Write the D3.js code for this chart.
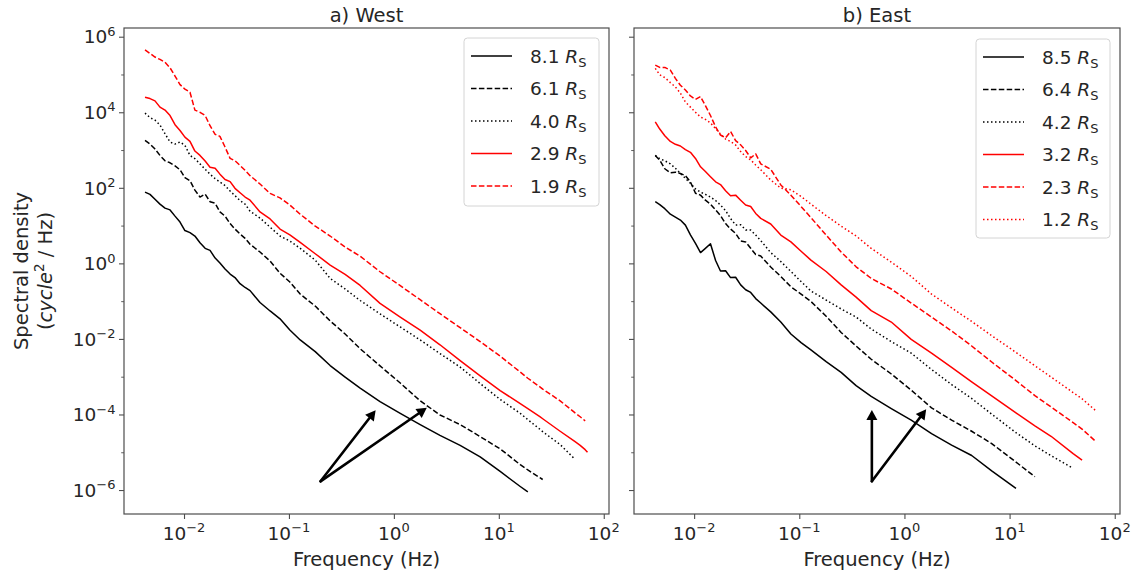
<!DOCTYPE html>
<html><head><meta charset="utf-8">
<script src="https://cdn.jsdelivr.net/npm/d3@7"></script>
<style>
body{margin:0;background:#fff}
svg{display:block}
text{font-family:"DejaVu Sans",sans-serif;fill:#262626}
</style>
</head><body>
<svg id="c" width="1140" height="575"></svg>
<script>
// ---------- DATA ----------
const freqWest = [0.00425,0.00474,0.00529,0.0059,0.00659,0.00736,0.00821,0.00916,0.0102,0.0114,
  0.0127,0.0142,0.0159,0.0177,0.0198,0.022,0.0246,0.0275,0.0306,0.0342,
  0.0382,0.0426,0.053,0.0661,0.0822,0.102,0.128,0.178,0.247,0.343,
  0.477,0.738,1.15,1.78,2.75,4.28,6.64,10.3,16.0,18.9,
  24.8,26.2,38.4,53.3,59.6,66.5,70.0];
const west81 = [77,67,50,37,29,26,17.8,12.4,7.4,6.5,
  5.3,3.5,2.5,2.2,1.38,1.02,0.71,0.52,0.42,0.29,
  0.23,0.19,0.092,0.055,0.034,0.0172,0.0094,0.0046,0.00197,9.8e-4,
  5.0e-4,2.2e-4,1.07e-4,5.4e-5,2.8e-5,1.52e-5,7.5e-6,3.1e-6,1.24e-6,8.9e-7];
const west61 = [1800,1440,1060,720,520,460,380,300,185,154,
  87,57,68,43,39,23,17.8,11.3,8.1,6.0,
  4.6,3.2,2.0,1.15,0.55,0.32,0.154,0.074,0.030,0.0135,
  5.5e-3,1.93e-3,6.8e-4,2.3e-4,9.7e-5,5.4e-5,2.6e-5,1.23e-5,4.7e-6,3.4e-6,
  2.1e-6,1.9e-6];
const west40 = [9500,7200,6200,4600,2700,1630,1440,1630,1330,720,
  590,430,310,230,175,142,115,82,62,46,
  37,24,15.8,9.1,5.3,3.9,2.5,1.22,0.40,0.21,
  0.104,0.046,0.0207,9.4e-3,4.1e-3,1.8e-3,6.6e-4,2.5e-4,1.07e-4,7.3e-5,
  4.0e-5,3.5e-5,1.6e-5,6.5e-6];
const west29 = [2.5e4,2.3e4,2.0e4,1.37e4,1.14e4,8200,4700,3300,2200,1700,
  940,720,510,350,330,230,166,146,97,74,
  57,47,23,15,8.1,5.7,3.6,1.8,0.90,0.51,
  0.26,0.087,0.038,0.0172,7.0e-3,2.65e-3,1.05e-3,4.3e-4,1.93e-4,1.43e-4,
  8.6e-5,7.7e-5,3.6e-5,1.9e-5,1.52e-5,1.17e-5,1.0e-5];
const west19 = [4.5e5,3.6e5,2.9e5,2.5e5,2.1e5,1.5e5,9.1e4,5.4e4,4.1e4,3.4e4,
  1.14e4,1.0e4,8200,4400,2600,2300,1200,600,520,390,
  290,210,126,71,54,35,20,9.7,5.3,2.7,
  1.55,0.60,0.257,0.109,0.0465,0.0198,8.5e-3,3.5e-3,1.33e-3,9.1e-4,
  5.3e-4,4.7e-4,2.3e-4,1.1e-4,8.7e-5,6.8e-5];

const freqEast = [0.00427,0.00471,0.00526,0.00594,0.00663,0.0074,0.00826,0.00922,0.0103,0.0115,
  0.0128,0.0143,0.016,0.0178,0.0199,0.0222,0.0248,0.0277,0.0309,0.0345,
  0.0385,0.043,0.0535,0.0667,0.0832,0.104,0.129,0.18,0.25,0.347,
  0.483,0.75,1.16,1.81,2.81,4.36,6.76,11.5,17.4,24.8,
  40.2,48.9,65.1];
const east85 = [43,36,28,20,16.8,14,10.3,5.7,3.4,1.93,
  2.5,3.3,1.19,0.63,0.64,0.42,0.43,0.27,0.20,0.17,
  0.117,0.089,0.052,0.028,0.0135,8.0e-3,5.1e-3,2.5e-3,1.3e-3,5.8e-4,
  3.0e-4,1.43e-4,7.1e-5,3.1e-5,1.55e-5,8.2e-6,3.2e-6,1.1e-6];
const east64 = [720,540,320,250,260,240,210,143,72,64,
  47,37,26,18.4,11.3,8.1,6.2,3.9,3.7,2.5,
  1.71,1.56,0.80,0.45,0.24,0.154,0.098,0.040,0.0148,6.5e-3,
  2.9e-3,1.18e-3,4.4e-4,1.5e-4,7.1e-5,3.6e-5,1.7e-5,5.5e-6,2.25e-6];
const east42 = [720,590,520,430,330,240,178,132,94,77,
  67,57,46,35,25,15.4,10.4,10.5,7.7,7.6,
  5.6,4.0,1.93,1.12,0.61,0.33,0.185,0.107,0.062,0.038,
  0.0183,8.5e-3,4.2e-3,1.55e-3,6.2e-4,2.65e-4,1.02e-4,3.3e-5,1.48e-5,8.1e-6,
  3.75e-6];
const east32 = [5600,3600,2400,1690,1420,1280,1030,870,600,360,
  270,197,144,122,84,62,64,47,35,32,
  21,15.5,11,5.6,3.7,2.1,1.22,0.61,0.27,0.128,
  0.056,0.028,9.7e-3,4.2e-3,1.76e-3,7.3e-4,3.1e-4,1.1e-4,5.0e-5,2.65e-5,
  9.2e-6,6.2e-6];
const east23 = [1.77e5,1.54e5,1.54e5,1.31e5,7.9e4,5.2e4,3.9e4,2.7e4,2.2e4,2.6e4,
  1.5e4,8200,4100,2500,2100,3100,1780,1370,970,620,
  790,430,310,119,64,32,16.3,5.6,2.0,0.81,
  0.40,0.21,0.089,0.038,0.0162,6.5e-3,2.45e-3,7.9e-4,3.15e-4,1.58e-4,
  6.1e-5,4.1e-5,2.0e-5];
const east12 = [1.45e5,9.8e4,8.3e4,6.1e4,4.7e4,3.2e4,1.86e4,1.37e4,1.0e4,7500,
  6500,5200,3700,2650,1950,1680,1360,910,670,550,
  400,300,161,98,89,59,37,18.4,9.7,5.3,
  2.5,1.08,0.45,0.154,0.066,0.029,0.0122,4.4e-3,1.95e-3,9.8e-4,
  3.8e-4,2.6e-4,1.3e-4];

const westLabels = ["8.1","6.1","4.0","2.9","1.9"];
const eastLabels = ["8.5","6.4","4.2","3.2","2.3","1.2"];

const xTickValues = [1e-2,1e-1,1,1e1,1e2];
const yTickValues = [1e6,1e4,1e2,1,1e-2,1e-4,1e-6];
const yMinorValues = [1e5,1e3,1e1,1e-1,1e-3,1e-5];

const arrowsWest = [{from:[0.2,1.7e-6],to:[0.67,1.3e-4]},{from:[0.2,1.7e-6],to:[2.06,1.5e-4]}];
const arrowsEast = [{from:[0.49,1.7e-6],to:[0.49,1.31e-4]},{from:[0.49,1.7e-6],to:[1.61,1.37e-4]}];

// ---------- STYLES ----------
const styles = [
  {color:"#000", dash:null},
  {color:"#000", dash:"5.5,2.4"},
  {color:"#000", dash:"1.5,2.5"},
  {color:"#ff0000", dash:null},
  {color:"#ff0000", dash:"5.5,2.4"},
  {color:"#ff0000", dash:"1.5,2.5"}
];

const svg = d3.select("#c");
const TOP = 28, BOT = 514;
const y = d3.scaleLog().domain([2.32e-7, 1.7e6]).range([BOT, TOP]);
const fsTick = 18.5, fsLab = 19.5;
const spine = "#4d4d4d";

function sup(textSel, base, exp, fsBase, fsSup, dy) {
  textSel.append("tspan").text(base);
  textSel.append("tspan").attr("font-size", fsSup).attr("dy", dy).text(exp);
}
function expStr(v){ const e = Math.round(Math.log10(v)); return e < 0 ? "\u2212" + (-e) : String(e); }

function panel(cfg) {
  const x = d3.scaleLog().domain([0.00268, 112.2]).range([cfg.x0, cfg.x1]);
  const g = svg.append("g");
  const line = d3.line().x(d => x(d[0])).y(d => y(d[1]));

  cfg.series.forEach((vals, i) => {
    const pts = vals.map((v, j) => [cfg.freq[j], v]);
    const p = g.append("path").attr("d", line(pts)).attr("fill", "none")
      .attr("stroke", styles[i].color).attr("stroke-width", 1.5)
      .attr("stroke-linejoin", "round");
    if (styles[i].dash) p.attr("stroke-dasharray", styles[i].dash);
  });

  // arrows
  cfg.arrows.forEach(a => {
    const x1 = x(a.from[0]), y1 = y(a.from[1]), x2 = x(a.to[0]), y2 = y(a.to[1]);
    const ang = Math.atan2(y2 - y1, x2 - x1);
    const hl = 10, hw = 5.5;
    const bx = x2 - hl * Math.cos(ang), by = y2 - hl * Math.sin(ang);
    g.append("line").attr("x1", x1).attr("y1", y1).attr("x2", bx).attr("y2", by)
      .attr("stroke", "#000").attr("stroke-width", 2.6).attr("stroke-linecap", "round");
    const pts = [[x2, y2], [bx + hw * Math.sin(ang), by - hw * Math.cos(ang)], [bx - hw * Math.sin(ang), by + hw * Math.cos(ang)]];
    g.append("polygon").attr("points", pts.map(p => p.join(",")).join(" ")).attr("fill", "#000");
  });

  // frame
  g.append("rect").attr("x", cfg.x0).attr("y", TOP).attr("width", cfg.x1 - cfg.x0).attr("height", BOT - TOP)
    .attr("fill", "none").attr("stroke", spine).attr("stroke-width", 1.2);

  // x axis ticks
  const xa = g.append("g").attr("transform", `translate(0,${BOT})`)
    .call(d3.axisBottom(x).tickValues(xTickValues).tickSize(5).tickFormat(() => ""));
  xa.select(".domain").remove();
  xa.selectAll(".tick line").attr("stroke", spine).attr("stroke-width", 1.1);
  xa.selectAll(".tick text").remove();
  xTickValues.forEach(v => {
    const t = g.append("text").attr("x", x(v)).attr("y", 539.5).attr("text-anchor", "middle").attr("font-size", fsTick);
    sup(t, "10", expStr(v), fsTick, 13, -7.5);
  });

  // y axis ticks
  const ya = g.append("g").attr("transform", `translate(${cfg.x0},0)`)
    .call(d3.axisLeft(y).tickValues(yTickValues).tickSize(5).tickFormat(() => ""));
  ya.select(".domain").remove();
  ya.selectAll(".tick line").attr("stroke", spine).attr("stroke-width", 1.1);
  ya.selectAll(".tick text").remove();
  const ym = g.append("g").attr("transform", `translate(${cfg.x0},0)`)
    .call(d3.axisLeft(y).tickValues(yMinorValues).tickSize(2.8).tickFormat(() => ""));
  ym.select(".domain").remove();
  ym.selectAll(".tick line").attr("stroke", spine).attr("stroke-width", 0.9);
  ym.selectAll(".tick text").remove();
  if (cfg.yLabels) {
    yTickValues.forEach(v => {
      const t = g.append("text").attr("x", cfg.x0 - 8.5).attr("y", y(v) + 6.7).attr("text-anchor", "end").attr("font-size", fsTick);
      sup(t, "10", expStr(v), fsTick, 13, -7.5);
    });
  }

  // title & x label
  const cx = (cfg.x0 + cfg.x1) / 2;
  g.append("text").attr("x", cx).attr("y", 21.5).attr("text-anchor", "middle").attr("font-size", fsLab).text(cfg.title);
  g.append("text").attr("x", cx).attr("y", 565.5).attr("text-anchor", "middle").attr("font-size", fsLab).text("Frequency (Hz)");

  // legend
  const L = cfg.legend;
  g.append("rect").attr("x", L.x).attr("y", L.y).attr("width", L.w).attr("height", L.h).attr("rx", 3.5)
    .attr("fill", "#fff").attr("fill-opacity", 0.8).attr("stroke", "#d4d4d4").attr("stroke-width", 1);
  cfg.labels.forEach((lab, i) => {
    const cy = L.y + 18 + i * 32.5;
    const ln = g.append("line").attr("x1", L.x + 7).attr("x2", L.x + 48).attr("y1", cy).attr("y2", cy)
      .attr("stroke", styles[i].color).attr("stroke-width", 1.5);
    if (styles[i].dash) ln.attr("stroke-dasharray", styles[i].dash);
    const t = g.append("text").attr("x", L.x + 66).attr("y", cy + 6.7).attr("font-size", fsTick);
    t.append("tspan").text(lab + " ");
    t.append("tspan").attr("font-style", "italic").text("R");
    t.append("tspan").attr("font-size", 13).attr("dy", 4).text("S");
  });
}

panel({x0:124, x1:609, freq:freqWest, series:[west81, west61, west40, west29, west19],
  labels:westLabels, title:"a) West", yLabels:true, arrows:arrowsWest,
  legend:{x:464, y:38, w:135, h:168}});
panel({x0:634, x1:1120, freq:freqEast, series:[east85, east64, east42, east32, east23, east12],
  labels:eastLabels, title:"b) East", yLabels:false, arrows:arrowsEast,
  legend:{x:976, y:39, w:134, h:199}});

// y label
const cyL = (TOP + BOT) / 2;
svg.append("text").attr("transform", `translate(28,${cyL}) rotate(-90)`).attr("text-anchor", "middle")
  .attr("font-size", fsLab).text("Spectral density");
const t2 = svg.append("text").attr("transform", `translate(51.5,${cyL}) rotate(-90)`).attr("text-anchor", "middle")
  .attr("font-size", fsLab);
t2.append("tspan").text("(");
t2.append("tspan").attr("font-style", "italic").text("cycle");
t2.append("tspan").attr("font-size", 13.5).attr("dy", -7.5).text("2");
t2.append("tspan").attr("dy", 7.5).text(" / Hz)");
</script>
</body></html>
